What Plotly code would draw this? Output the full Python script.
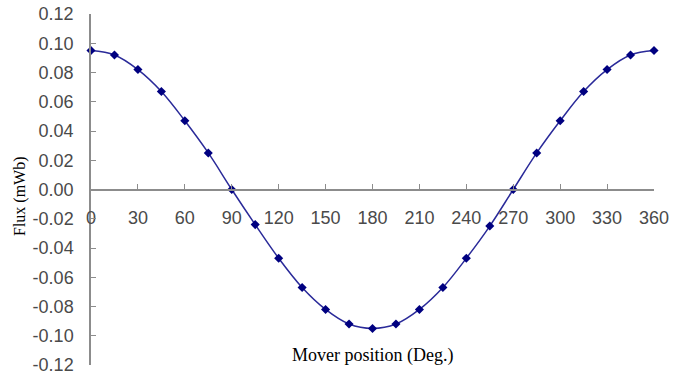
import plotly.graph_objects as go

positions = [0, 15, 30, 45, 60, 75, 90, 105, 120, 135, 150, 165, 180,
             195, 210, 225, 240, 255, 270, 285, 300, 315, 330, 345, 360]
flux = [0.095, 0.092, 0.082, 0.067, 0.047, 0.025, 0.000, -0.024, -0.047, -0.067,
        -0.082, -0.092, -0.095, -0.092, -0.082, -0.067, -0.047, -0.025, 0.000,
        0.025, 0.047, 0.067, 0.082, 0.092, 0.095]
x_ticks = list(range(0, 361, 30))
y_ticks = [-0.12, -0.10, -0.08, -0.06, -0.04, -0.02, 0.00, 0.02, 0.04, 0.06, 0.08, 0.10, 0.12]

# target plot area in page pixels (body margin removed via post_script)
PX0, PX1, PY0, PY1 = 91, 654, 14, 365
W, H = 697, 382
L, T = PX0, PY0
R = W - PX1
B = H - PY1
plot_w = W - L - R
plot_h = H - T - B

def px(xp):
    return (xp - PX0) / plot_w

def py(yp):
    return (PY1 - yp) / plot_h

fig = go.Figure()
fig.add_trace(go.Scatter(
    x=positions, y=flux, mode="lines+markers",
    line=dict(color="#2a2a99", width=1.5, shape="spline"),
    marker=dict(symbol="diamond", size=7, color="#000080"),
    showlegend=False, cliponaxis=False))

axis_col = "#8c8c8c"
fig.update_layout(
    width=W, height=H,
    margin=dict(l=L, r=R, t=T, b=B, autoexpand=False),
    plot_bgcolor="white", paper_bgcolor="white",
    font=dict(family="Liberation Sans, Arial", size=18, color="#4a4a4a"),
    xaxis=dict(range=[0, 360], tickvals=x_ticks, ticktext=[str(v) for v in x_ticks],
               anchor="free", position=0.5, side="bottom", automargin=False,
               showline=True, linecolor=axis_col, linewidth=1.5,
               ticks="inside", ticklen=5, tickcolor=axis_col,
               showgrid=False, zeroline=False, ticklabelstandoff=12,
               ticklabeloverflow="allow"),
    yaxis=dict(range=[-0.12, 0.12], tickvals=y_ticks, automargin=False,
               ticktext=[f"{v:.2f}" for v in y_ticks],
               showline=True, linecolor=axis_col, linewidth=1.5,
               ticks="inside", ticklen=5, tickcolor=axis_col,
               showgrid=False, zeroline=False, ticklabelstandoff=12,
               ticklabeloverflow="allow"),
    annotations=[
        dict(text="Mover position (Deg.)", xref="paper", yref="paper",
             x=px(372), y=py(355),
             xanchor="center", yanchor="middle", showarrow=False,
             font=dict(family="Liberation Serif, Times New Roman", size=18, color="#000000")),
        dict(text="Flux (mWb)", textangle=-90, xref="paper", yref="paper",
             x=px(20), y=py(196),
             xanchor="center", yanchor="middle", showarrow=False,
             font=dict(family="Liberation Serif, Times New Roman", size=16, color="#000000")),
    ],
)

fig.write_html("out.html", config={"displayModeBar": False},
               post_script="document.body.style.margin='0';document.body.style.overflow='hidden';")
